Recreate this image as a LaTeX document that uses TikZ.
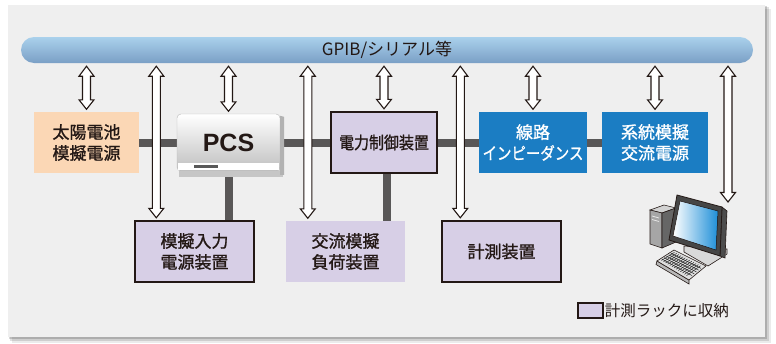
\documentclass[tikz,border=0pt]{standalone}
\usepackage{fontspec}
\setmainfont{Noto Sans CJK JP}
\newfontfamily\boxfont{Noto Sans CJK JP}[FakeBold=1.2]
\newfontfamily\pcsfont{Liberation Sans}
\usepackage{tikz}
\usetikzlibrary{positioning}
\usetikzlibrary{calc}
\usetikzlibrary{shadows}
\usetikzlibrary{backgrounds}
\definecolor{inkblack}{HTML}{231815}
\definecolor{panelgray}{HTML}{EFEFEF}
\definecolor{linkgray}{HTML}{595757}
\definecolor{rackpurple}{HTML}{D7CFE6}
\definecolor{solarorange}{HTML}{FBD7B5}
\definecolor{gridblue}{HTML}{1B7DC3}
\definecolor{bustop}{HTML}{AAD1EC}
\definecolor{busbottom}{HTML}{7A9FC5}
\definecolor{screenblue}{HTML}{1E8FD8}
\tikzstyle{unit} = [rectangle, 
minimum width=106pt, 
minimum height=61pt, 
text centered, 
align=center, 
font=\boxfont\fontsize{17}{21}\selectfont, 
text=inkblack]
\tikzstyle{solarbox} = [unit, 
minimum width=105pt, 
fill=solarorange]
\tikzstyle{rack} = [unit, 
fill=rackpurple, 
draw=inkblack, 
line width=1.4pt]
\tikzstyle{rackopen} = [unit, 
minimum width=119pt, 
fill=rackpurple]
\tikzstyle{netbox} = [unit, 
fill=gridblue, 
text=white]
\tikzstyle{busbar} = [rectangle, rounded corners=13pt, 
minimum width=732pt, 
minimum height=26pt, 
top color=bustop, 
bottom color=busbottom, 
text=inkblack, 
font=\fontsize{17}{17}\selectfont]
\tikzstyle{pcsbody} = [rectangle, rounded corners=4pt, 
minimum width=103pt, 
minimum height=57pt, 
top color=white, 
bottom color=gray!50, 
draw=gray!55, 
text=inkblack, 
font=\pcsfont\bfseries\fontsize{25}{25}\selectfont, 
drop shadow={opacity=0.3, shadow xshift=3pt, shadow yshift=-4pt}]
\tikzstyle{link} = [draw=linkgray, line width=8pt]
\tikzstyle{hollow} = [draw=inkblack, fill=white, line width=1.1pt, 
to path={let \p1=(\tikztotarget), \p2=(bus.south) in
  (\x1,\y2-3pt) -- (\x1+7.5pt,\y2-13pt) -- (\x1+4pt,\y2-13pt) -- (\x1+4pt,\y1+12pt)
  -- (\x1+7.5pt,\y1+12pt) -- (\x1,\y1+2.5pt) -- (\x1-7.5pt,\y1+12pt) -- (\x1-4pt,\y1+12pt)
  -- (\x1-4pt,\y2-13pt) -- (\x1-7.5pt,\y2-13pt) -- cycle}]
\tikzstyle{pcpart} = [draw=inkblack, line width=0.6pt]

\begin{document}
\begin{tikzpicture} [x=1pt, y=1pt, node distance=150pt]
    \useasboundingbox (0,0) rectangle (776,-343);

    \node (solar) [solarbox] at (86.5,-142.5) {太陽電池\\模擬電源};
    \node (pcs) [pcsbody, right of=solar, xshift=-8pt] {PCS\hspace{10pt}};
    \node (ctrl) [rack, right of=pcs, xshift=5.5pt] {\scalebox{0.88}[1]{電力制御装置}};
    \node (line) [netbox, right of=ctrl, xshift=-1pt] {線路\\\scalebox{0.85}[1]{インピーダンス}};
    \node (grid) [netbox, right of=line, xshift=-28pt] {系統模擬\\交流電源};
    \node (bus) [busbar, above of=ctrl, xshift=3pt, yshift=-57.5pt] {GPIB/シリアル等};

    \node (simin) [rack, below of=pcs, xshift=-34pt, yshift=41pt, minimum width=119pt] {模擬入力\\電源装置};
    \node (acload) [rackopen, right of=simin, xshift=1pt] {交流模擬\\負荷装置};
    \node (meas) [rack, right of=acload, xshift=6pt, minimum width=119pt] {計測装置};

    \node (legendbox) [rack, minimum width=25pt, minimum height=15pt, inner sep=0pt, line width=1.2pt] at (590.5,-310.5) {};
    \node (legend) [anchor=west, inner xsep=1pt, text=inkblack, font=\fontsize{15.5}{18}\selectfont] at (legendbox.east) {計測ラックに収納};

    % PCS unit details
    \fill[gray!45] ([xshift=2pt]pcs.south west) rectangle ([xshift=3pt,yshift=-6pt]pcs.south east);
    \fill[white] ([xshift=1pt,yshift=8pt]pcs.south west) rectangle ([xshift=-1pt,yshift=1pt]pcs.south east);
    \fill[gray!70!black] ([xshift=17pt,yshift=6pt]pcs.south west) rectangle ([xshift=41pt,yshift=3pt]pcs.south west);
    \fill[gray!60] ([yshift=-2pt]pcs.north east) -- ++(4pt,-1pt) -- ++(0,-58pt) -- ++(-4pt,0) -- cycle;

    % computer
    \filldraw[pcpart, fill=gray!35] (650,-210) -- (664,-205) -- (676,-208) -- (662,-213) -- cycle;
    \filldraw[pcpart, fill=gray!70] (650,-210) -- (662,-213) -- (662,-248) -- (650,-244) -- cycle;
    \filldraw[pcpart, fill=gray!80!black] (662,-213) -- (676,-208) -- (676,-242) -- (662,-248) -- cycle;
    \draw[gray!20, line width=0.8pt] (652,-216) -- (659,-218) (652,-219.5) -- (659,-221.5);
    \filldraw[pcpart, fill=gray!30] (684,-246) -- (727,-249) -- (727,-254) -- (708,-266) -- (684,-252) -- cycle;
    \filldraw[pcpart, fill=gray!60!black] (722,-207) -- (727,-211) -- (725,-258) -- (720,-256) -- cycle;
    \filldraw[pcpart, fill=gray!55!black, line width=0.8pt] (677,-195) -- (722,-207) -- (720,-256) -- (669,-240) -- cycle;
    \filldraw[pcpart, line width=0.5pt, left color=white, right color=screenblue] (680,-201) -- (718,-211) -- (716,-250) -- (673,-236) -- cycle;
    \filldraw[pcpart, fill=gray!55] (657,-261) -- (689,-280) -- (689,-284) -- (656,-264.5) -- cycle;
    \filldraw[pcpart, fill=gray!25] (657,-261) -- (674,-250) -- (706,-266) -- (689,-280) -- cycle;
    \foreach \t in {0.2,0.35,...,0.85}
        \draw[gray!30!black, line width=0.5pt] ($(659,-261)!\t!(674,-251.5)$) -- ($(689,-278)!\t!(704,-266)$);
    \foreach \t in {0.08,0.15,...,0.95}
        \draw[gray!30!black, line width=0.5pt] ($(659,-259)!\t!(689,-277)$) -- ($(672,-251)!\t!(703,-267)$);
    \coordinate (pc) at (728,-204.5);

    % tap points for the long arrows
    \coordinate (simintap) at ([xshift=22pt]simin.north west);
    \coordinate (acloadtap) at ([xshift=22pt]acload.north west);
    \coordinate (meastap) at ([xshift=19pt]meas.north west);

    \begin{scope}[on background layer]
        \fill[black, opacity=0.08] (12,-9) rectangle (771,-343);
        \fill[black, opacity=0.12] (10,-7) rectangle (768.5,-341);
        \fill[black, opacity=0.16] (9,-6) rectangle (766.5,-339);
        \fill[panelgray] (8,-5) rectangle (765,-337);

        \draw [link] (solar) -- (pcs);
        \draw [link] (pcs) -- (ctrl);
        \draw [link] (ctrl) -- (line);
        \draw [link] (line) -- (grid);
        \draw [link] (pcs) -- (pcs |- simin.north);
        \draw [link] ([xshift=3pt]ctrl.south) -- ([xshift=3pt]ctrl.south |- acload.north);
    \end{scope}

    \draw [hollow] (bus) to (solar.north);
    \draw [hollow] (bus) to (simintap);
    \draw [hollow] (bus) to (pcs.north);
    \draw [hollow] (bus) to (acloadtap);
    \draw [hollow] (bus) to (ctrl.north);
    \draw [hollow] (bus) to (meastap);
    \draw [hollow] (bus) to (line.north);
    \draw [hollow] (bus) to (grid.north);
    \draw [hollow] (bus) to (pc);

\end{tikzpicture}
\end{document}
